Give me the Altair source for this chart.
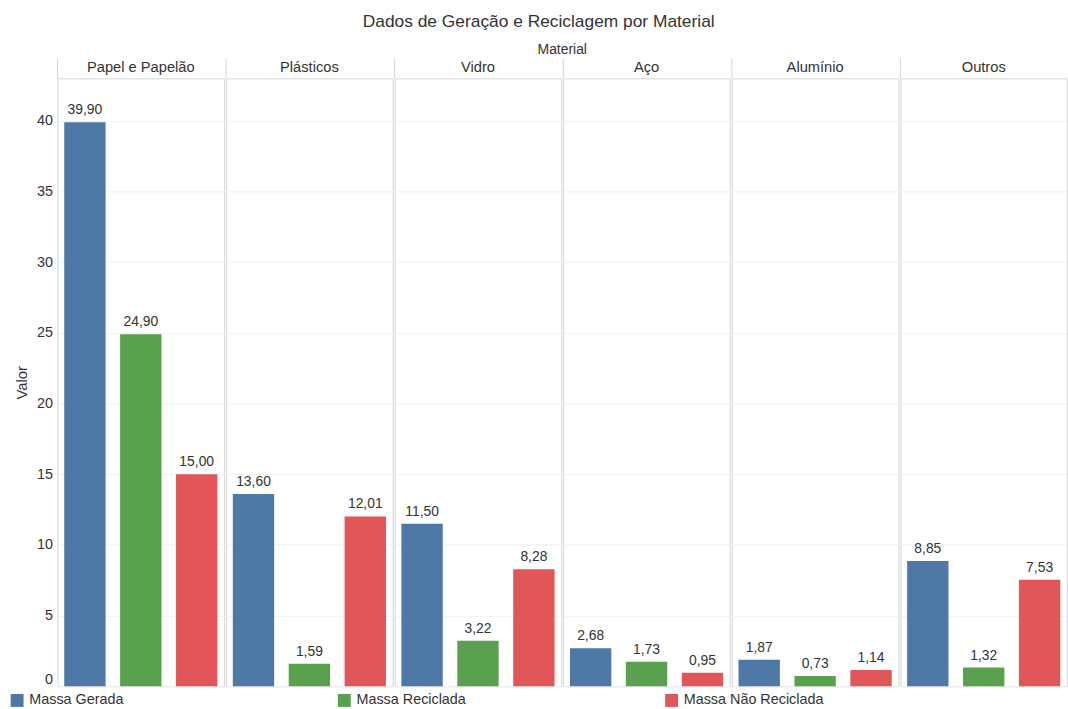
import altair as alt
import pandas as pd

# Categories and series
materials = ["Papel e Papelão", "Plásticos", "Vidro", "Aço", "Alumínio", "Outros"]
series = ["Massa Gerada", "Massa Reciclada", "Massa Não Reciclada"]

# Values per material (same order as `materials`)
gerada = [39.90, 13.60, 11.50, 2.68, 1.87, 8.85]
reciclada = [24.90, 1.59, 3.22, 1.73, 0.73, 1.32]
nao_reciclada = [15.00, 12.01, 8.28, 0.95, 1.14, 7.53]

y_ticks = [0, 5, 10, 15, 20, 25, 30, 35, 40]
colors = ["#4E79A7", "#59A14F", "#E15759"]

rows = []
for i, m in enumerate(materials):
    for s, vals in zip(series, [gerada, reciclada, nao_reciclada]):
        rows.append({"Material": m, "Serie": s, "Valor": vals[i]})
df = pd.DataFrame(rows)

FONT = "Arial"
TEXT = "#333333"
LINE = "#d4d4d4"

base = alt.Chart().encode(
    x=alt.X(
        "Serie:N",
        sort=series,
        axis=None,
        scale=alt.Scale(paddingInner=0.26, paddingOuter=0.12),
    ),
    y=alt.Y(
        "Valor:Q",
        scale=alt.Scale(domain=[0, 43], nice=False),
        axis=alt.Axis(
            title="Valor",
            values=y_ticks,
            ticks=False,
            domain=False,
            grid=True,
            gridColor="#f0f0f0",
            labelFlush=True,
            labelFontSize=14.5,
            labelColor=TEXT,
            labelPadding=4,
            titleFontSize=15,
            titleFontWeight="normal",
            titleColor=TEXT,
            titlePadding=7,
        ),
    ),
)

bars = base.mark_bar().encode(
    color=alt.Color(
        "Serie:N",
        sort=series,
        scale=alt.Scale(domain=series, range=colors),
        legend=alt.Legend(
            title=None,
            orient="none",
            direction="horizontal",
            legendX=-48,
            legendY=620,
            columns=3,
            gridAlign="all",
            columnPadding=169,
            symbolType="square",
            symbolSize=169,
            symbolStrokeWidth=0,
            symbolOpacity=1,
            labelFontSize=14.5,
            labelColor=TEXT,
            labelOffset=5,
        ),
    )
)

labels = (
    base.transform_calculate(
        rotulo="replace(format(datum.Valor, '.2f'), '.', ',')"
    )
    .mark_text(baseline="bottom", dy=-5, fontSize=14, color=TEXT, font=FONT)
    .encode(text="rotulo:N")
)

# Header separators rising above each panel's left edge
seps = (
    alt.Chart()
    .transform_filter(alt.datum.Serie == series[0])
    .mark_rule(color=LINE, strokeWidth=1)
    .encode(x=alt.value(0), y=alt.value(-20), y2=alt.value(0))
)

chart = (
    alt.layer(bars, labels, seps, data=df)
    .properties(width=168, height=613)
    .facet(
        column=alt.Column(
            "Material:N",
            sort=materials,
            header=alt.Header(
                title="Material",
                titleFontSize=14,
                titleFontWeight="normal",
                titleColor=TEXT,
                titlePadding=-9,
                labelFontSize=14.8,
                labelColor=TEXT,
                labelPadding=-17,
            ),
        ),
        spacing=0,
    )
    .properties(
        title=alt.TitleParams(
            "Dados de Geração e Reciclagem por Material",
            fontSize=17.5,
            fontWeight="normal",
            color=TEXT,
            anchor="middle",
            offset=12,
        ),
        padding={"left": 10, "top": 10, "right": 0, "bottom": 0},
    )
    .configure(font=FONT)
    .configure_view(stroke=LINE)
)

chart.save("out.html", embed_options={"renderer": "svg", "actions": False})
